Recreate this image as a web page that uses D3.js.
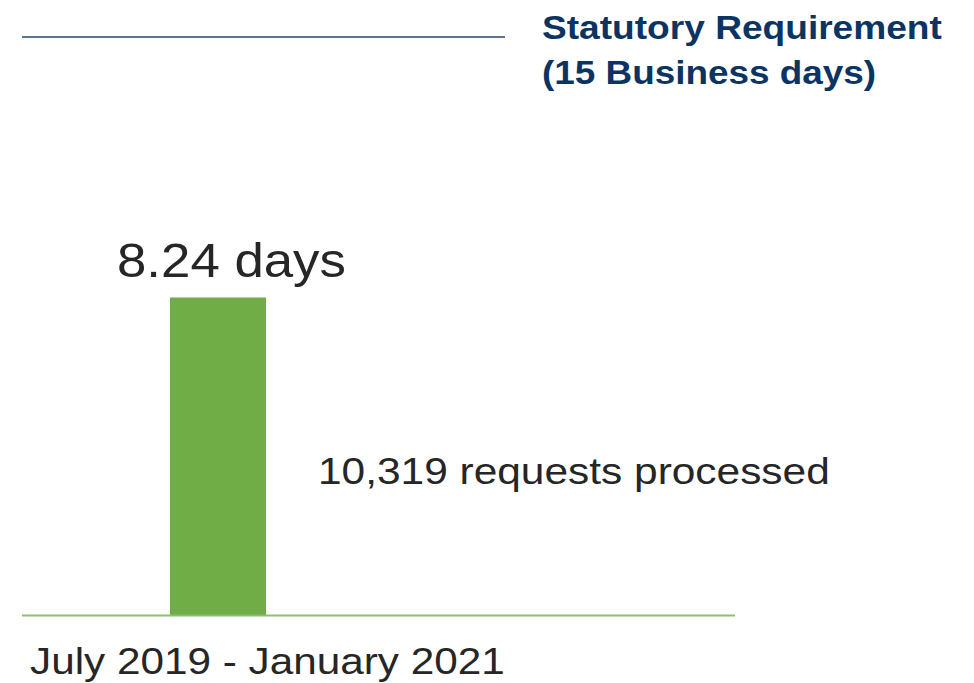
<!DOCTYPE html>
<html lang="en">
<head>
	<meta charset="utf-8">
	<title>Statutory Requirement</title>
	<script src="https://cdn.jsdelivr.net/npm/d3@7"></script>
	<style>
		body { margin: 0; background: #fff; }
		text { font-family: "Liberation Sans", Arial, sans-serif; }
	</style>
</head>
<body>
	<div id="chart"></div>
	<script>
		// data
		var periods = ["July 2019 - January 2021"];
		var avgDays = [8.24];
		var requests = [10319];
		var statutory = 15;
		var refLabel = ["Statutory Requirement", "(15 Business days)"];

		var w = 974,
		    h = 683;

		var svg = d3.select("#chart")
			.append("svg")
			.attr("width", w)
			.attr("height", h);

		var y = d3.scaleLinear()
			.domain([0, statutory])
			.range([615, 37]);

		var x = d3.scaleBand()
			.domain(periods)
			.range([170, 266])
			.padding(0);

		// the source picture is stretched sideways: squeeze/stretch a text to a width
		function fit(sel, tx, ty, width) {
			sel.attr("transform", function() {
				var s = width / this.getComputedTextLength();
				return "translate(" + tx + "," + ty + ") scale(" + s + ",1)";
			});
		}

		// statutory line
		svg.append("line")
			.attr("x1", 22)
			.attr("x2", 505)
			.attr("y1", y(statutory))
			.attr("y2", y(statutory))
			.attr("stroke", "#5b7590")
			.attr("stroke-width", 2);

		var refWidths = [400, 334];
		svg.selectAll(".ref")
			.data(refLabel)
			.enter()
			.append("text")
			.attr("class", "ref")
			.attr("fill", "#0b3463")
			.attr("font-size", "34px")
			.attr("font-weight", "bold")
			.text(function(d) {return d;})
			.each(function(d, i) {fit(d3.select(this), 542, 39 + i * 45, refWidths[i]);});

		// bars
		svg.selectAll(".bar")
			.data(periods)
			.enter()
			.append("rect")
			.attr("class", "bar")
			.attr("x", function(d) {return x(d);})
			.attr("y", function(d, i) {return y(avgDays[i]);})
			.attr("width", x.bandwidth())
			.attr("height", function(d, i) {return y(0) - y(avgDays[i]);})
			.attr("fill", "#70ad47");

		// baseline
		svg.append("line")
			.attr("x1", 22)
			.attr("x2", 735)
			.attr("y1", y(0) + 0.5)
			.attr("y2", y(0) + 0.5)
			.attr("stroke", "#8cc06a")
			.attr("stroke-width", 2);

		// value label
		svg.selectAll(".value")
			.data(periods)
			.enter()
			.append("text")
			.attr("class", "value")
			.attr("font-size", "49px")
			.attr("fill", "#262626")
			.text(function(d, i) {return avgDays[i].toFixed(2) + " days";})
			.each(function(d, i) {fit(d3.select(this), x(d) - 53, y(avgDays[i]) - 20, 229);});

		// requests
		svg.append("text")
			.attr("font-size", "37px")
			.attr("fill", "#262626")
			.text(d3.format(",")(requests[0]) + " requests processed")
			.call(fit, 318, 484, 512);

		// category label
		svg.selectAll(".cat")
			.data(periods)
			.enter()
			.append("text")
			.attr("class", "cat")
			.attr("font-size", "37px")
			.attr("fill", "#262626")
			.text(function(d) {return d;})
			.call(fit, 30, 674, 475);
	</script>
</body>
</html>
